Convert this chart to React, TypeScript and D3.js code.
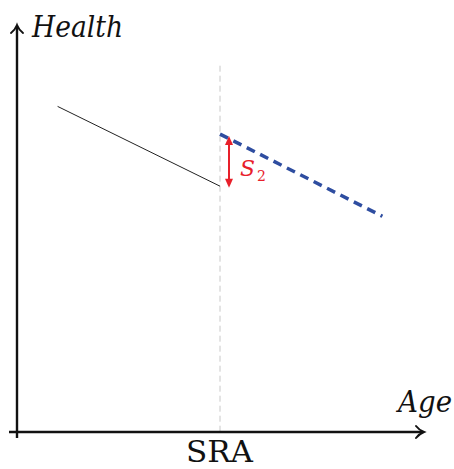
import React from "react";
import * as d3 from "d3";

const W = 454, H = 469;
// data (abstract units)
const preLine = [{ age: 1, health: 8 }, { age: 5, health: 6.04 }];
const postLine = [{ age: 5, health: 7.32 }, { age: 9, health: 5.3 }];
const sraAge = 5;
const sraTop = 9;
const gapTop = 7.27;
const gapBottom = 6.0;

export default function App() {
  const x = d3.scaleLinear().domain([0, 10]).range([17, 423]);
  const y = d3.scaleLinear().domain([0, 10]).range([432, 25]);
  const line = d3.line<{ age: number; health: number }>().x(d => x(d.age)).y(d => y(d.health));
  const ax = x(sraAge) + 9;
  const serif = "'DejaVu Serif', serif";
  const red = "#e8202a";
  return (
    <svg width={W} height={H} style={{ position: "absolute", left: 0, top: 0 }}>
      <rect width={W} height={H} fill="#fff" />
      {/* SRA vertical dashed */}
      <line x1={x(sraAge)} x2={x(sraAge)} y1={y(sraTop)} y2={y(0)} stroke="#c8c8c8" strokeWidth={1} strokeDasharray="6 4" />
      {/* axes */}
      <line x1={17} x2={17} y1={438} y2={27} stroke="#111" strokeWidth={2.4} />
      <line x1={9} x2={422} y1={432} y2={432} stroke="#111" strokeWidth={2.4} />
      <path d="M11,33 Q15,30 17,25 Q19,30 23,33" fill="none" stroke="#111" strokeWidth={2} strokeLinecap="round" />
      <path d="M416,426 Q419,430 424,432 Q419,434 416,438" fill="none" stroke="#111" strokeWidth={2} strokeLinecap="round" />
      {/* lines */}
      <path d={line(preLine) || ""} fill="none" stroke="#222" strokeWidth={1} />
      <path d={line(postLine) || ""} fill="none" stroke="#2e4da0" strokeWidth={3.5} strokeDasharray="9 6" />
      {/* red arrow */}
      <line x1={ax} x2={ax} y1={y(gapTop) + 6} y2={y(gapBottom) - 6} stroke={red} strokeWidth={2} />
      <path d={`M${ax - 4},${y(gapTop) + 9} L${ax},${y(gapTop)} L${ax + 4},${y(gapTop) + 9} Z`} fill={red} />
      <path d={`M${ax - 4},${y(gapBottom) - 9} L${ax},${y(gapBottom)} L${ax + 4},${y(gapBottom) - 9} Z`} fill={red} />
      <text x={240} y={176} fill={red} fontFamily={serif} fontStyle="italic" fontSize={22} textLength={15} lengthAdjust="spacingAndGlyphs">S</text>
      <text x={257} y={181} fill={red} fontFamily={serif} fontSize={14}>2</text>
      {/* labels */}
      <text x={32} y={37} fontFamily={serif} fontStyle="italic" fontSize={29} textLength={91} lengthAdjust="spacingAndGlyphs" fill="#111">Health</text>
      <text x={398} y={412} fontFamily={serif} fontStyle="italic" fontSize={29} textLength={54} lengthAdjust="spacingAndGlyphs" fill="#111">Age</text>
      <text x={186} y={462} fontFamily={serif} fontSize={30} textLength={67} lengthAdjust="spacingAndGlyphs" fill="#111">SRA</text>
    </svg>
  );
}
